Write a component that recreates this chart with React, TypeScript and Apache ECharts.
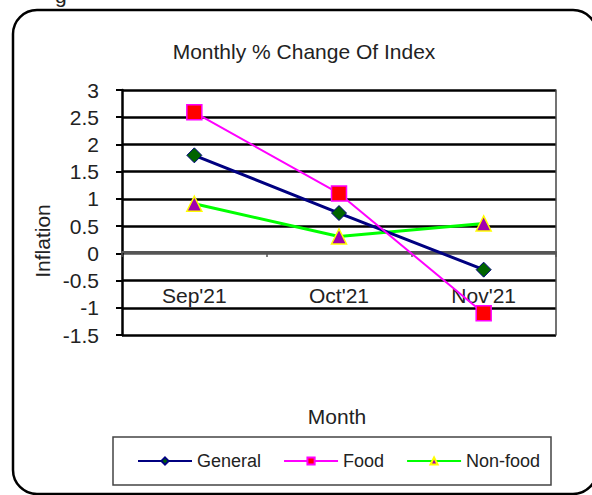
import React, { useEffect, useRef } from "react";
import * as echarts from "echarts";

const categories = ["Sep'21", "Oct'21", "Nov'21"];
const generalValues = [1.8, 0.74, -0.3];
const foodValues = [2.59, 1.1, -1.1];
const nonFoodValues = [0.91, 0.31, 0.55];
const titleText = "Monthly % Change Of Index";
const xName = "Month";
const yName = "Inflation";

export default function App() {
  const ref = useRef<HTMLDivElement>(null);
  useEffect(() => {
    if (!ref.current) return;
    const chart = echarts.init(ref.current, null, { renderer: "svg" });
    const font = "Liberation Sans, Arial, sans-serif";
    const splitColors = ["#000", "#000", "#000", "#555", "#000", "#000", "#000", "#000", "#000", "#000"];
    chart.setOption({
      animation: false,
      backgroundColor: "#fff",
      textStyle: { fontFamily: font },
      grid: { left: 122, right: 36, top: 90, bottom: 160 },
      xAxis: {
        type: "category",
        data: categories,
        boundaryGap: true,
        position: "bottom",
        offset: -83,
        axisLine: { onZero: false, lineStyle: { color: "#555", width: 2 } },
        axisTick: { show: true, length: 5, lineStyle: { color: "#555", width: 1.5 } },
        axisLabel: { fontSize: 21, color: "#222", margin: 33, fontFamily: font },
        splitLine: { show: false },
      },
      yAxis: [
        {
          type: "value",
          min: -1.5,
          max: 3,
          interval: 0.5,
          axisLine: { show: true, onZero: false, lineStyle: { color: "#000", width: 2.5 } },
          axisTick: { show: true, length: 6, lineStyle: { color: "#000", width: 2 } },
          axisLabel: { fontSize: 21, color: "#222", margin: 23, fontFamily: font },
          splitLine: { show: true, lineStyle: { color: splitColors, width: 2.5 } },
        },
        {
          type: "value",
          min: -1.5,
          max: 3,
          interval: 0.5,
          position: "right",
          axisLine: { show: true, onZero: false, lineStyle: { color: "#444", width: 1.5 } },
          axisTick: { show: false },
          axisLabel: { show: false },
          splitLine: { show: false },
        },
      ],
      legend: {
        left: 137,
        top: 452,
        padding: 0,
        itemWidth: 54,
        itemHeight: 9,
        itemGap: 22,
        textStyle: { fontSize: 18, color: "#222", fontFamily: font },
        data: ["General", "Food", "Non-food"],
      },
      series: [
        {
          name: "General",
          type: "line",
          data: generalValues,
          symbol: "diamond",
          symbolSize: 15,
          lineStyle: { color: "#000080", width: 3 },
          itemStyle: { color: "#006400", borderColor: "#000080", borderWidth: 1 },
          z: 3,
        },
        {
          name: "Food",
          type: "line",
          data: foodValues,
          symbol: "rect",
          symbolSize: 15,
          lineStyle: { color: "#FF00FF", width: 2 },
          itemStyle: { color: "#FF0000", borderColor: "#FF00FF", borderWidth: 1.5 },
          z: 4,
        },
        {
          name: "Non-food",
          type: "line",
          data: nonFoodValues,
          symbol: "triangle",
          symbolSize: 15,
          lineStyle: { color: "#00FF00", width: 3 },
          itemStyle: { color: "#A000B0", borderColor: "#FFFF00", borderWidth: 1.5 },
          z: 2,
        },
      ],
      graphic: [
        {
          type: "rect",
          shape: { x: 13, y: 10, width: 584, height: 484, r: 24 },
          style: { fill: "none", stroke: "#000", lineWidth: 2.5 },
          silent: true,
        },
        {
          type: "text",
          x: 55,
          y: 6,
          style: { text: "g", fontSize: 21, fontFamily: font, fill: "#222", textVerticalAlign: "bottom" },
          silent: true,
        },
        {
          type: "rect",
          shape: { x: 113, y: 437, width: 438, height: 48 },
          style: { fill: "none", stroke: "#444", lineWidth: 1.5 },
          silent: true,
          z: -1,
        },
        {
          type: "text",
          x: 304,
          y: 51,
          style: { text: titleText, fontSize: 21, fontFamily: font, fill: "#222", textAlign: "center", textVerticalAlign: "middle" },
          silent: true,
        },
        {
          type: "text",
          x: 337,
          y: 416,
          style: { text: xName, fontSize: 21, fontFamily: font, fill: "#222", textAlign: "center", textVerticalAlign: "middle" },
          silent: true,
        },
        {
          type: "text",
          x: 42,
          y: 241,
          rotation: Math.PI / 2,
          style: { text: yName, fontSize: 21, fontFamily: font, fill: "#222", textAlign: "center", textVerticalAlign: "middle" },
          silent: true,
        },
      ],
    });
    return () => chart.dispose();
  }, []);
  return <div ref={ref} style={{ width: 592, height: 495, position: "absolute", left: 0, top: 0 }} />;
}
